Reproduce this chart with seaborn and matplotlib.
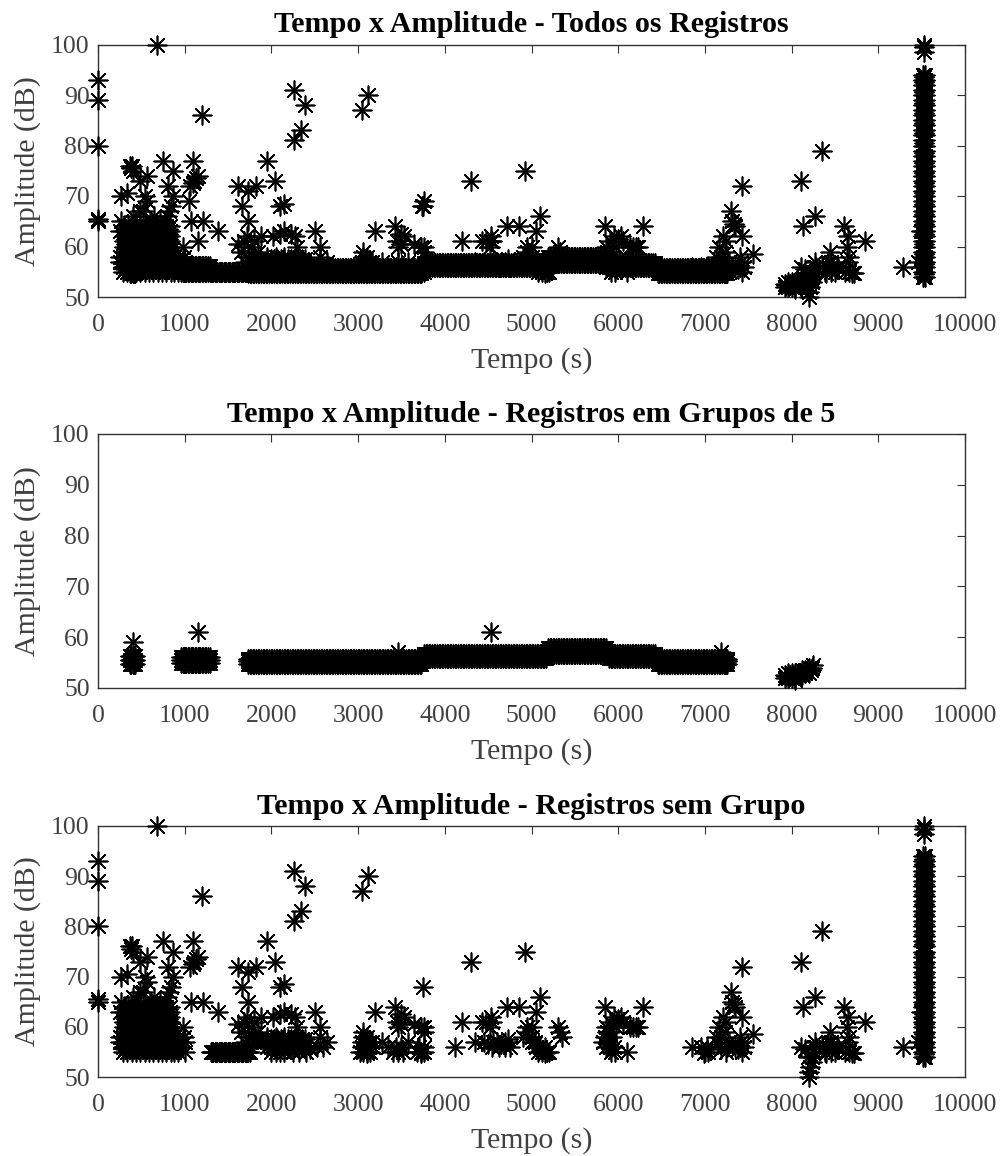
import matplotlib
matplotlib.use('Agg')
import matplotlib.pyplot as plt
import pandas as pd
import seaborn as sns

# registros em grupos de 5: faixas de tempo
faixa_1_t = [370, 385, 400, 415, 430]
faixa_2_t = [960, 975, 990, 1005, 1020, 1035, 1050, 1068, 1085, 1100, 1115, 1132, 1150, 1165, 1180, 1198, 1215,
             1232, 1250, 1270, 1290]
faixa_a_t = [1730, 1749, 1768, 1786, 1805, 1824, 1842, 1861, 1880, 1898, 1916, 1936, 1955, 1972, 1990, 2010,
             2030, 2048, 2066, 2085, 2104, 2122, 2140, 2159, 2178, 2196, 2215, 2234, 2252, 2271, 2290, 2308,
             2327, 2346, 2364, 2382, 2400, 2419, 2438, 2457, 2476, 2494, 2512, 2531, 2550, 2568, 2586, 2605,
             2624, 2642, 2660, 2679, 2698, 2716, 2735, 2754, 2772, 2791, 2810, 2828, 2846, 2865, 2884, 2902,
             2920, 2939, 2958, 2976, 2995, 3014, 3032, 3051, 3070, 3088, 3106, 3125, 3144, 3162, 3180, 3199,
             3218, 3236, 3255, 3274, 3292, 3311, 3330, 3348, 3366, 3385, 3404, 3422, 3440, 3459, 3478, 3496,
             3515, 3534, 3552, 3571, 3590, 3608, 3625, 3642, 3660, 3678, 3695, 3712, 3730]
faixa_b_t = [3760, 3779, 3798, 3816, 3835, 3854, 3872, 3891, 3910, 3928, 3946, 3965, 3984, 4002, 4020, 4039,
             4058, 4076, 4095, 4114, 4132, 4151, 4170, 4188, 4206, 4225, 4244, 4262, 4280, 4299, 4318, 4336,
             4355, 4374, 4392, 4411, 4430, 4448, 4466, 4485, 4504, 4522, 4540, 4559, 4578, 4596, 4615, 4634,
             4652, 4671, 4690, 4708, 4726, 4745, 4764, 4782, 4800, 4819, 4838, 4856, 4875, 4894, 4912, 4931,
             4950, 4968, 4985, 5002, 5020, 5040, 5060, 5078, 5095, 5112, 5130, 5148, 5165]
faixa_c_t = [5190, 5209, 5228, 5246, 5265, 5284, 5302, 5321, 5340, 5358, 5376, 5395, 5414, 5432, 5450, 5469,
             5488, 5506, 5525, 5544, 5562, 5581, 5600, 5618, 5636, 5655, 5674, 5692, 5710, 5729, 5748, 5766,
             5785, 5804, 5822, 5841, 5860]
faixa_d_t = [5895, 5912, 5930, 5949, 5968, 5986, 6005, 6024, 6042, 6061, 6080, 6098, 6116, 6135, 6154, 6172,
             6190, 6209, 6228, 6246, 6265, 6284, 6302, 6321, 6340, 6358, 6375, 6398, 6420]
faixa_e_t = [6455, 6472, 6490, 6509, 6528, 6546, 6565, 6584, 6602, 6621, 6640, 6658, 6676, 6695, 6714, 6732,
             6750, 6769, 6788, 6806, 6825, 6844, 6862, 6881, 6900, 6918, 6936, 6955, 6974, 6992, 7010, 7029,
             7048, 7066, 7085, 7104, 7122, 7141, 7160, 7178, 7196, 7215, 7234, 7247, 7260]

grupo_extra_t = [400, 1150, 4530, 3460, 7180, 7920, 7920, 7960, 7960, 8000, 8000, 8040, 8040, 8040, 8080, 8080,
                 8120, 8120, 8160, 8160, 8200, 8200, 8240, 8250, 7940, 7980, 8020, 8060, 8100, 8140, 8180, 8220]
grupo_extra_a = [59, 61, 61, 57, 57, 52.5, 52, 52, 53, 52, 53, 52, 53, 51.5, 52.5, 53,
                 52.5, 53.5, 53, 53.5, 53, 54, 54, 54.5, 52.4, 52.5, 52.6, 52.8, 53, 53.2, 53.4, 53.6]

# registros sem grupo: bloco denso no inicio
bloco_baixo_t = [290, 340, 390, 440, 490, 540, 590, 640, 690, 740, 790, 840, 880, 920]
bloco_baixo2_t = [315, 365, 415, 465, 515, 565, 615, 665, 715, 765, 815, 860, 900]
bloco_alto_t = [300, 345, 390, 440, 490, 540, 590, 640, 690, 740, 785, 830]
bloco_alto2_t = [322, 368, 415, 465, 515, 565, 615, 665, 715, 762, 808]
bloco_baixo_a = [55, 56, 57, 58]
bloco_baixo2_a = [55.5, 56.5, 57.5]
bloco_alto_a = [59, 60, 61, 62, 63, 64]
bloco_alto2_a = [58.5, 59.5, 60.5, 61.5, 62.5, 63.5]
banda_1500_t = [1300, 1315, 1330, 1345, 1360, 1375, 1390, 1405, 1420, 1435, 1450, 1465, 1480, 1495, 1510, 1525,
                1540, 1555, 1570, 1585, 1600, 1615, 1630, 1645, 1660, 1675, 1690, 1705, 1720, 1735, 1750]
coluna_9500_a = [54, 55, 56, 57, 58, 59, 60, 61, 62, 63, 64, 65, 66, 67, 68, 69, 70, 71, 72, 73, 74, 75, 76, 77,
                 78, 79, 80, 81, 82, 83, 84, 85, 86, 87, 88, 89, 90, 91, 92, 93, 94]
coluna_meio_a = [54.5, 56.5, 58.5, 60.5, 62.5, 64.5, 66.5, 68.5, 70.5, 72.5, 74.5, 76.5, 78.5, 80.5, 82.5,
                 84.5, 86.5, 88.5, 90.5, 92.5, 93.5]
miolo_2000_t = [1950, 1990, 2030, 2070, 2110, 2150, 2190, 2230, 2270, 2310, 2350, 2390]

solto_t = [0, 0, 0, 0, 0, 685, 1200, 2265, 2390, 2340, 2260, 3050, 3110, 1945, 2040, 2100, 2150,
           1610, 1730, 1820, 1660, 1730, 2500, 3200, 3750, 4300, 4930, 8350, 8110, 7430, 9530, 9530, 9530,
           250, 250, 260, 250, 400, 480, 520, 600, 650, 720, 800, 820,
           270, 330, 370, 390, 380, 400, 480, 560, 540, 560, 750, 860, 810, 860, 840,
           1090, 1060, 1100, 1110, 1130, 1150, 1070, 1210, 1380, 980, 990, 1000, 950, 1000,
           1620, 1680, 1720, 1650, 1760, 1800, 1730, 1780, 1700, 1800, 1880, 1900, 1950, 1950, 2000, 2000,
           2050, 2050, 2100, 2100, 2150, 2150, 2100, 2150, 2020, 2230, 2270, 2250, 2300, 2280, 2320, 2350,
           2400, 2250, 2300, 2380, 2450, 2530, 2560, 2590, 2640, 2560, 1850, 1850,
           3020, 3060, 3100, 3140, 3040, 3080, 3120, 3170, 3040, 3080, 3120, 3160, 3060, 3100, 3060, 3100,
           3280, 3340, 3400, 3460, 3520, 3440, 3490, 3580, 3680, 3720, 3760, 3700, 3760, 3720,
           3430, 3500, 3530, 3450, 3460, 3500, 3650, 3720, 3760, 3760,
           4120, 4350, 4200, 4430, 4450, 4500, 4530, 4520, 4480, 4550, 4560, 4600, 4650, 4700, 4620, 4550,
           4700, 4720, 4860, 4750, 4730, 4900, 4950, 4950, 5000, 5000, 5010, 5050, 5100, 5050, 5080, 5120,
           5150, 5180, 5100, 5040, 5200, 5150, 5310, 5330, 5350,
           5850, 6290, 5860, 5900, 5870, 5850, 5880, 5900, 5920, 5860, 5830, 5930, 5900, 5950, 6000, 6030,
           5980, 6050, 5950, 5960, 6100, 6140, 6170, 6200, 6230,
           6850, 6960, 7000, 7020, 7040, 6990, 7130, 7180, 7160, 7210, 7240, 7230, 7150, 7180, 7240, 7250,
           7280, 7300, 7330, 7350, 7310, 7430, 7350, 7380, 7400, 7420, 7430, 7450, 7550, 7410,
           8130, 8270, 8110, 8200, 8200, 8210, 8230, 8240, 8190, 8250, 8270, 8280, 8150, 8350, 8380, 8400,
           8420, 8440, 8450, 8460, 8500, 8520, 8470, 8540, 8600, 8650, 8640, 8660, 8650, 8620, 8660, 8700,
           8720, 8850, 8400, 9290, 9490, 9460]
solto_a = [93, 89, 80, 65.5, 65, 100, 86, 91, 88, 83, 81, 87, 90, 77, 73, 68, 68.5,
           72, 71, 72, 68, 65, 63, 63, 68, 73, 75, 79, 73, 72, 100, 99.5, 98.5,
           57, 63, 65, 58, 66, 67, 67, 65, 66, 65, 66, 67,
           70, 70.5, 76, 76, 75.5, 75, 73, 74, 70, 69, 77, 75, 72, 70, 68,
           77, 72, 72.5, 73, 73.5, 74, 65, 65, 63, 60, 58, 55, 56, 57,
           60.5, 61, 62, 59, 60, 61, 58, 58, 57, 57, 62, 57, 56, 58, 57, 55,
           58, 55, 55, 57, 55, 58, 62.5, 63, 62, 62.5, 62, 57, 60, 58, 55, 56,
           55, 55, 56, 57, 55.5, 56, 58, 56, 57, 60, 57.5, 59,
           55, 55, 55, 55, 56, 56, 56, 56, 57, 57, 57, 57, 58, 58, 59, 54.8,
           57, 56, 55, 55, 55, 56, 56, 57, 55, 55, 55, 56, 56, 54.8,
           64, 62.5, 62, 61, 60, 60.5, 60.5, 60, 60, 59,
           56, 57, 61, 61, 57, 56.5, 62, 60, 61, 61, 57, 57, 56.5, 57, 56, 56,
           56, 64, 64, 56, 57.5, 58, 60, 59, 60, 58, 57, 63, 66, 56, 55, 55,
           56, 55, 56, 57, 55, 54.8, 60, 59, 58,
           64, 64, 60, 61, 59, 58, 57, 56, 55, 56, 57, 58, 59, 62, 61.5, 62,
           60, 61, 56, 55, 55, 60, 60, 60, 60,
           56, 56, 55, 56, 55, 54.8, 58, 58, 60, 62, 61, 59, 56.5, 55.5, 55, 56,
           57, 67, 64.5, 64, 65, 62, 56, 55.5, 56, 57, 55, 56, 58.5, 58,
           64, 66, 56, 50, 51, 52, 53, 54, 54, 55, 57, 56, 55.5, 56, 55, 56,
           57, 59, 57, 55, 55, 56, 56, 56, 64, 62, 60, 58, 57, 55, 55, 54.7,
           54.8, 61, 54.8, 56, 63, 57]

# aparecem so no painel de todos os registros
apenas_todos_t = [1050, 3760, 3740]
apenas_todos_a = [69, 69, 68]

titulos = ['Tempo x Amplitude - Todos os Registros',
           'Tempo x Amplitude - Registros em Grupos de 5',
           'Tempo x Amplitude - Registros sem Grupo']
x_ticks = [0, 1000, 2000, 3000, 4000, 5000, 6000, 7000, 8000, 9000, 10000]
y_ticks = [50, 60, 70, 80, 90, 100]


def linha(tempos, amp):
    return pd.DataFrame({'tempo': tempos, 'amp': [amp] * len(tempos)})


grupo = pd.concat([
    linha(faixa_1_t, 54.8), linha(faixa_1_t, 55.5), linha(faixa_1_t, 56.3),
    linha(faixa_2_t, 55), linha(faixa_2_t, 55.6), linha(faixa_2_t, 56.2),
    linha(faixa_a_t, 54.8), linha(faixa_a_t, 55.3), linha(faixa_a_t, 55.8),
    linha(faixa_b_t, 56), linha(faixa_b_t, 56.7),
    linha(faixa_c_t, 56.7), linha(faixa_c_t, 57.3), linha(faixa_c_t, 57.9),
    linha(faixa_d_t, 56), linha(faixa_d_t, 56.7),
    linha(faixa_e_t, 54.8), linha(faixa_e_t, 55.3), linha(faixa_e_t, 55.8),
    pd.DataFrame({'tempo': grupo_extra_t, 'amp': grupo_extra_a}),
], ignore_index=True)

partes = [linha(bloco_baixo_t, a) for a in bloco_baixo_a] + [linha(bloco_alto_t, a) for a in bloco_alto_a]
partes += [linha(bloco_baixo2_t, a) for a in bloco_baixo2_a] + [linha(bloco_alto2_t, a) for a in bloco_alto2_a]
partes.append(linha(banda_1500_t, 55))
partes.append(linha(miolo_2000_t, 56))
partes.append(linha(miolo_2000_t, 57.5))
partes.append(pd.DataFrame({'tempo': [9515] * len(coluna_9500_a), 'amp': coluna_9500_a}))
partes.append(pd.DataFrame({'tempo': [9540] * len(coluna_9500_a), 'amp': coluna_9500_a}))
partes.append(pd.DataFrame({'tempo': [9528] * len(coluna_meio_a), 'amp': coluna_meio_a}))
partes.append(pd.DataFrame({'tempo': solto_t, 'amp': solto_a}))
sem_grupo = pd.concat(partes, ignore_index=True)

todos = pd.concat([grupo, sem_grupo, pd.DataFrame({'tempo': apenas_todos_t, 'amp': apenas_todos_a})],
                  ignore_index=True)

sns.set_style('white')
plt.rcParams['font.family'] = ['Liberation Serif', 'DejaVu Serif']

fig = plt.figure(figsize=(10.03, 11.56), dpi=100)
W, H = 1003, 1156
caixas = [(44.5, 297), (434, 688), (826, 1077)]

for dados, titulo, (topo, base) in zip([todos, grupo, sem_grupo], titulos, caixas):
    ax = fig.add_axes([98 / W, 1 - base / H, (965 - 98) / W, (base - topo) / H])
    sns.scatterplot(data=dados, x='tempo', y='amp', ax=ax, marker=(8, 2, 0), s=180, color='black',
                    linewidth=1.2, clip_on=False, zorder=3, legend=False)
    ax.set_xlim(0, 10000)
    ax.set_ylim(50, 100)
    ax.set_xticks(x_ticks)
    ax.set_yticks(y_ticks)
    ax.tick_params(direction='in', length=6, width=0.8, color='#333333', top=True, right=True,
                   labelsize=18.5, labelcolor='#404040')
    ax.tick_params(axis='x', pad=12)
    ax.tick_params(axis='y', pad=6)
    for lado in ax.spines.values():
        lado.set_linewidth(1.0)
        lado.set_edgecolor('#333333')
    ax.set_xlabel('Tempo (s)', fontsize=21.5, color='#404040', labelpad=8)
    ax.set_ylabel('Amplitude (dB)', fontsize=21.5, color='#404040', labelpad=7)
    ax.set_title(titulo, fontsize=21.7, fontweight='bold', color='black', pad=9)

fig.savefig('out.png', dpi=100)
